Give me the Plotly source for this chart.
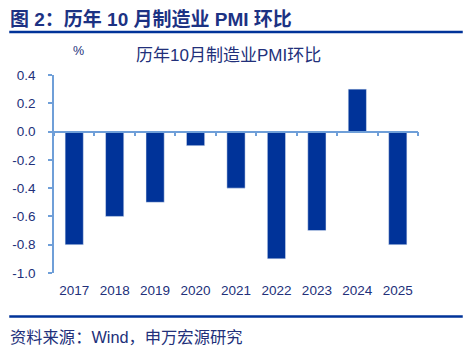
import plotly.graph_objects as go

years = ["2017", "2018", "2019", "2020", "2021", "2022", "2023", "2024", "2025"]
mom_change = [-0.8, -0.6, -0.5, -0.1, -0.4, -0.9, -0.7, 0.3, -0.8]
y_ticks = [0.4, 0.2, 0.0, -0.2, -0.4, -0.6, -0.8, -1.0]
y_ticklabels = ["0.4", "0.2", "0.0", "-0.2", "-0.4", "-0.6", "-0.8", "-1.0"]

BAR = "#003399"
AXIS = "#6f9fd8"
TXT = "#22307a"
FONT = "Liberation Sans, Arial, Noto Sans CJK SC"

W, H = 472, 355
ml, mr, mt, mb = 52, 54, 75, 82
ymin, ymax = -1.0, 0.4
zero_frac = (0 - ymin) / (ymax - ymin)
PW, PH = W - ml - mr, H - mt - mb

fig = go.Figure()
fig.add_trace(go.Bar(
    x=years, y=mom_change, marker=dict(color=BAR, line=dict(width=0)),
    width=0.45, hoverinfo="x+y", xaxis="x", yaxis="y",
))
fig.add_trace(go.Bar(
    x=years, y=mom_change, marker=dict(color="rgba(0,0,0,0)"),
    width=0.45, hoverinfo="skip", xaxis="x2", yaxis="y", showlegend=False,
))

fig.update_layout(
    width=W, height=H,
    margin=dict(l=ml, r=mr, t=mt, b=mb),
    plot_bgcolor="white", paper_bgcolor="white",
    showlegend=False,
    font=dict(family=FONT, color=TXT, size=13),
    xaxis=dict(
        type="category", showline=False, ticks="", showgrid=False,
        tickfont=dict(size=13.5, color=TXT), ticklabelstandoff=7,
        zeroline=False,
    ),
    xaxis2=dict(
        type="category", overlaying="x", anchor="free", position=zero_frac,
        side="bottom", matches="x",
        showline=True, linecolor=AXIS, linewidth=1.5,
        ticks="outside", tickson="boundaries", ticklen=4, tickcolor=AXIS, tickwidth=1.5,
        showticklabels=False, showgrid=False, zeroline=False,
    ),
    yaxis=dict(
        range=[ymin, ymax], tickvals=y_ticks, ticktext=y_ticklabels,
        showline=True, linecolor=AXIS, linewidth=1.5,
        ticks="outside", ticklen=4, tickcolor=AXIS, tickwidth=1.5,
        showgrid=False, zeroline=False,
        tickfont=dict(size=13.5, color=TXT), ticklabelstandoff=10,
    ),
    bargap=0.55,
)

def px_x(x):
    return (x - ml) / PW

def px_y(y):
    return 1 - (y - mt) / PH

fig.add_annotation(text="<b>图 2：历年 10 月制造业 PMI 环比</b>", xref="paper", yref="paper",
                   x=px_x(6), y=px_y(19), xanchor="left", yanchor="middle", showarrow=False,
                   font=dict(size=19, color="#1c3283", family=FONT))
fig.add_annotation(text="%", xref="paper", yref="paper",
                   x=px_x(77), y=px_y(51), xanchor="center", yanchor="middle", showarrow=False,
                   font=dict(size=12.5, color=TXT, family=FONT))
fig.add_annotation(text="历年10月制造业PMI环比", xref="paper", yref="paper",
                   x=px_x(227), y=px_y(56), xanchor="center", yanchor="middle", showarrow=False,
                   font=dict(size=17, color=TXT, family=FONT))
fig.add_annotation(text="资料来源：Wind，申万宏源研究", xref="paper", yref="paper",
                   x=px_x(6), y=px_y(337), xanchor="left", yanchor="middle", showarrow=False,
                   font=dict(size=16.3, color=TXT, family=FONT))

def hline(ypix, width):
    fig.add_shape(type="line", xref="paper", yref="paper",
                  x0=px_x(7), x1=px_x(463), y0=px_y(ypix), y1=px_y(ypix),
                  line=dict(color="#003399", width=width))

hline(32, 2.5)
hline(316.5, 2.5)

fig.write_html("out.html", config={"displayModeBar": False},
               post_script="document.body.style.margin='0px';document.body.style.overflow='hidden';")
